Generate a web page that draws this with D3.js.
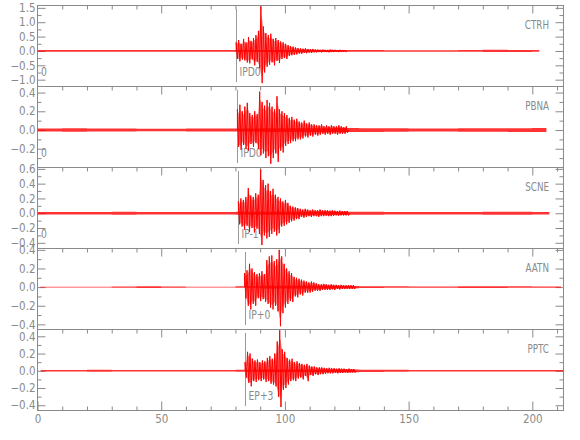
<!DOCTYPE html>
<html lang="en">
<head>
<meta charset="UTF-8">
<title>Seismograms</title>
<script src="https://cdn.jsdelivr.net/npm/d3@7/dist/d3.min.js"></script>
<style>
    body { margin: 0; background: #fff; }
    text { font-family: "Liberation Sans Narrow", "DejaVu Sans Condensed", sans-serif; fill: #8a8a8a; font-size: 11.5px; }
</style>
</head>
<body>
<svg id="seis" width="580" height="440"></svg>
<script>
    // station info
    const stations = ['CTRH', 'PBNA', 'SCNE', 'AATN', 'PPTC'];
    const pickLabels = ['IPD0', 'IPD0', 'IP-1', 'IP+0', 'EP+3'];
    const pickTimes = [80.3, 80.8, 81.2, 83.7, 83.9];
    const zeroMarks = [true, true, true, false, false];
    const traceStart = [0, 0, 0, 1.0, 1.3];
    const traceEnd = [202.8, 205.7, 206.9, 211.6, 212.5];
    const yLimits = [[-1.22, 1.60], [-0.395, 0.47], [-0.47, 0.625], [-0.45, 0.42], [-0.455, 0.485]];
    const yStep = [0.5, 0.2, 0.2, 0.2, 0.2];
    const xTickLabels = [0, 50, 100, 150, 200];

    // background noise level (+/-) for 10 s segments starting at these times
    const noiseTimes = [0, 10, 20, 30, 40, 50, 60, 70, 80, 90, 100, 110, 120, 130, 140, 150, 160, 170, 180, 190, 200, 210];
    const noiseCTRH = [0.03, 0.03, 0.03, 0.03, 0.03, 0.03, 0.03, 0.03, 0.035, 0.035, 0.035, 0.035, 0.03, 0.03, 0.028, 0.028, 0.028, 0.03, 0.04, 0.035, 0.03, 0.03];
    const noisePBNA = [0.016, 0.018, 0.016, 0.015, 0.014, 0.014, 0.015, 0.015, 0.016, 0.02, 0.02, 0.02, 0.022, 0.02, 0.018, 0.016, 0.016, 0.018, 0.018, 0.02, 0.022, 0.022];
    const noiseSCNE = [0.017, 0.017, 0.017, 0.019, 0.017, 0.017, 0.017, 0.017, 0.02, 0.02, 0.02, 0.022, 0.02, 0.02, 0.018, 0.017, 0.017, 0.017, 0.019, 0.019, 0.017, 0.017];
    const noiseAATN = [0.005, 0.005, 0.005, 0.006, 0.01, 0.006, 0.005, 0.005, 0.008, 0.015, 0.015, 0.015, 0.012, 0.01, 0.008, 0.007, 0.007, 0.009, 0.01, 0.008, 0.007, 0.007];
    const noisePPTC = [0.009, 0.009, 0.011, 0.009, 0.009, 0.009, 0.009, 0.009, 0.012, 0.015, 0.015, 0.015, 0.016, 0.013, 0.011, 0.009, 0.009, 0.009, 0.009, 0.009, 0.009, 0.009];

    // signal: peak per second from the pick, trough half a second later
    const peaksCTRH = [0.30, 0.38, 0.25, 0.42, 0.30, 0.48, 0.35, 0.45, 0.55, 0.70, 1.55, 0.85, 0.62, 0.55, 0.60, 0.42, 0.45, 0.38, 0.33, 0.30, 0.25, 0.20, 0.17, 0.15, 0.12, 0.10, 0.09, 0.08, 0.09, 0.07, 0.06, 0.07, 0.05, 0.05, 0.04, 0.05, 0.04, 0.04, 0.05, 0.04, 0.04, 0.035, 0.04, 0.035, 0.03];
    const troughsCTRH = [-0.28, -0.36, -0.30, -0.33, -0.40, -0.43, -0.30, -0.50, -0.38, -0.60, -1.12, -0.75, -0.55, -0.48, -0.40, -0.50, -0.35, -0.42, -0.28, -0.25, -0.28, -0.18, -0.15, -0.14, -0.12, -0.09, -0.10, -0.07, -0.08, -0.06, -0.07, -0.05, -0.05, -0.04, -0.05, -0.04, -0.04, -0.05, -0.04, -0.04, -0.035, -0.04, -0.035, -0.03, -0.035];
    const peaksPBNA = [0.22, 0.27, 0.20, 0.25, 0.29, 0.18, 0.16, 0.20, 0.17, 0.41, 0.30, 0.26, 0.32, 0.29, 0.25, 0.22, 0.36, 0.22, 0.20, 0.18, 0.16, 0.13, 0.14, 0.11, 0.12, 0.09, 0.08, 0.10, 0.07, 0.08, 0.06, 0.06, 0.05, 0.05, 0.06, 0.04, 0.05, 0.04, 0.05, 0.04, 0.04, 0.05, 0.04, 0.03, 0.04];
    const troughsPBNA = [-0.18, -0.21, -0.16, -0.20, -0.22, -0.15, -0.18, -0.14, -0.20, -0.27, -0.25, -0.30, -0.28, -0.36, -0.30, -0.25, -0.34, -0.22, -0.24, -0.17, -0.15, -0.14, -0.12, -0.12, -0.10, -0.10, -0.09, -0.07, -0.08, -0.06, -0.07, -0.05, -0.06, -0.05, -0.04, -0.05, -0.04, -0.05, -0.04, -0.04, -0.05, -0.04, -0.04, -0.04, -0.03];
    const peaksSCNE = [0.16, 0.20, 0.18, 0.22, 0.34, 0.24, 0.22, 0.27, 0.25, 0.59, 0.45, 0.38, 0.40, 0.30, 0.33, 0.25, 0.22, 0.20, 0.16, 0.18, 0.14, 0.10, 0.09, 0.08, 0.07, 0.06, 0.05, 0.06, 0.05, 0.04, 0.05, 0.04, 0.04, 0.05, 0.04, 0.04, 0.04, 0.035, 0.04, 0.035, 0.03, 0.035, 0.03, 0.03, 0.03];
    const troughsSCNE = [-0.15, -0.18, -0.22, -0.17, -0.25, -0.20, -0.26, -0.21, -0.28, -0.43, -0.30, -0.34, -0.32, -0.28, -0.25, -0.30, -0.27, -0.18, -0.17, -0.15, -0.13, -0.11, -0.10, -0.08, -0.08, -0.05, -0.06, -0.05, -0.04, -0.05, -0.04, -0.04, -0.05, -0.04, -0.04, -0.035, -0.04, -0.04, -0.035, -0.03, -0.035, -0.03, -0.03, -0.03, -0.03];
    const peaksAATN = [0.15, 0.18, 0.25, 0.20, 0.16, 0.14, 0.15, 0.17, 0.14, 0.29, 0.33, 0.34, 0.28, 0.30, 0.40, 0.33, 0.25, 0.20, 0.17, 0.15, 0.11, 0.10, 0.09, 0.08, 0.07, 0.06, 0.05, 0.06, 0.05, 0.04, 0.03, 0.03, 0.035, 0.03, 0.025, 0.03, 0.025, 0.025, 0.02, 0.025, 0.02, 0.02, 0.02, 0.02, 0.02];
    const troughsAATN = [-0.12, -0.20, -0.24, -0.18, -0.20, -0.12, -0.15, -0.13, -0.16, -0.18, -0.22, -0.24, -0.20, -0.26, -0.42, -0.28, -0.22, -0.18, -0.15, -0.16, -0.10, -0.11, -0.08, -0.09, -0.06, -0.06, -0.06, -0.05, -0.04, -0.04, -0.04, -0.03, -0.03, -0.03, -0.03, -0.025, -0.03, -0.02, -0.025, -0.02, -0.02, -0.02, -0.02, -0.02, -0.02];
    const peaksPPTC = [0.10, 0.22, 0.20, 0.14, 0.12, 0.13, 0.10, 0.12, 0.11, 0.15, 0.17, 0.14, 0.20, 0.34, 0.47, 0.25, 0.22, 0.15, 0.13, 0.14, 0.10, 0.11, 0.09, 0.08, 0.07, 0.08, 0.06, 0.05, 0.05, 0.04, 0.04, 0.04, 0.035, 0.03, 0.035, 0.03, 0.03, 0.025, 0.03, 0.025, 0.025, 0.02, 0.025, 0.02, 0.02];
    const troughsPPTC = [-0.08, -0.14, -0.18, -0.12, -0.13, -0.11, -0.12, -0.10, -0.13, -0.12, -0.15, -0.16, -0.18, -0.30, -0.42, -0.22, -0.20, -0.16, -0.12, -0.11, -0.12, -0.09, -0.08, -0.10, -0.06, -0.12, -0.05, -0.06, -0.04, -0.05, -0.04, -0.04, -0.035, -0.03, -0.03, -0.03, -0.025, -0.03, -0.025, -0.025, -0.02, -0.025, -0.02, -0.02, -0.02];

    const noise = [noiseCTRH, noisePBNA, noiseSCNE, noiseAATN, noisePPTC];
    const peaks = [peaksCTRH, peaksPBNA, peaksSCNE, peaksAATN, peaksPPTC];
    const troughs = [troughsCTRH, troughsPBNA, troughsSCNE, troughsAATN, troughsPPTC];

    let svg = d3.select('svg#seis');
    const axisCol = '#8a8a8a';
    const panelTop = 5, panelH = 81;
    let x = d3.scaleLinear().domain([0, 212.6]).range([37.5, 563.5]);

    const xMinor = [], xMajor = [];
    for (let t = 10; t <= 210; t += 10) { if (t % 50 === 0) xMajor.push(t); else xMinor.push(t); }

    function styleAxis(g) {
        g.select('.domain').remove();
        g.selectAll('line').attr('stroke', axisCol);
    }

    stations.forEach(function (name, i) {
        let top = panelTop + i * panelH, bottom = top + panelH;
        let y = d3.scaleLinear().domain(yLimits[i]).range([bottom, top]);
        let g = svg.append('g');

        // y ticks
        let step = yStep[i], lo = yLimits[i][0], hi = yLimits[i][1];
        let major = [], minor = [];
        for (let k = Math.ceil(lo / (step / 2) - 1e-6); k * step / 2 <= hi + 1e-9; k++) {
            let v = +(k * step / 2).toFixed(3);
            if (k % 2 === 0) major.push(v); else minor.push(v);
        }
        g.append('g').attr('transform', 'translate(37.5,0)')
            .call(d3.axisLeft(y).tickValues(major).tickSize(-8).tickPadding(2).tickFormat(d3.format('.1f')))
            .call(styleAxis);
        g.append('g').attr('transform', 'translate(37.5,0)')
            .call(d3.axisLeft(y).tickValues(minor).tickSize(-4).tickFormat(''))
            .call(styleAxis);
        g.append('g').attr('transform', 'translate(563.5,0)')
            .call(d3.axisRight(y).tickValues(major).tickSize(-8).tickFormat(''))
            .call(styleAxis);
        g.append('g').attr('transform', 'translate(563.5,0)')
            .call(d3.axisRight(y).tickValues(minor).tickSize(-4).tickFormat(''))
            .call(styleAxis);

        // x ticks along the top edge
        g.append('g').attr('transform', 'translate(0,' + (top + 0.5) + ')')
            .call(d3.axisBottom(x).tickValues(xMinor).tickSize(4).tickFormat(''))
            .call(styleAxis);
        g.append('g').attr('transform', 'translate(0,' + (top + 0.5) + ')')
            .call(d3.axisBottom(x).tickValues(xMajor).tickSize(8).tickFormat(''))
            .call(styleAxis);

        // frame
        g.append('rect')
            .attr('x', 37.5).attr('y', top + 0.5)
            .attr('width', 526).attr('height', panelH)
            .attr('fill', 'none').attr('stroke', axisCol);

        // pick marker
        let px = Math.round(x(pickTimes[i])) + 0.5;
        g.append('line')
            .attr('x1', px).attr('x2', px)
            .attr('y1', top + 4).attr('y2', bottom - 4)
            .attr('stroke', '#9a9a9a');
        g.append('text')
            .attr('transform', 'translate(' + (px + 3) + ',' + (bottom - 10) + ') scale(0.82,1)')
            .style('font-size', '12.5px')
            .text(pickLabels[i]);
        if (zeroMarks[i]) {
            g.append('text')
                .attr('transform', 'translate(41,' + (bottom - 10) + ') scale(0.82,1)')
                .style('font-size', '12.5px')
                .text('0');
        }
        g.append('text')
            .attr('transform', 'translate(549,' + (top + 24) + ') scale(0.78,1)')
            .attr('text-anchor', 'end')
            .style('font-size', '12.5px')
            .text(name);

        // clip to the panel
        svg.append('clipPath').attr('id', 'clip' + i)
            .append('rect').attr('x', 37.5).attr('y', top + 0.5).attr('width', 526).attr('height', panelH);
        let wave = svg.append('g').attr('clip-path', 'url(#clip' + i + ')');

        // noise band
        let band = [];
        noiseTimes.forEach(function (t, k) {
            let a = Math.max(t, traceStart[i]), b = Math.min(t + 10, traceEnd[i]);
            if (b > a) band.push({t: a, n: noise[i][k]});
        });
        band.push({t: traceEnd[i], n: band[band.length - 1].n});
        wave.append('path')
            .datum(band)
            .attr('fill', '#ff0000')
            .attr('fill-opacity', 0.8)
            .attr('d', d3.area().curve(d3.curveStepAfter)
                .x(function (d) { return x(d.t); })
                .y0(function (d) { return y(-d.n); })
                .y1(function (d) { return y(d.n); }));

        // signal envelope (light) and peak-to-trough trace
        let t0 = pickTimes[i];
        let n = Math.min(peaks[i].length, troughs[i].length);
        let env = [];
        for (let j = 0; j < n; j++) env.push({t: t0 + j + 0.25, p: peaks[i][j], q: troughs[i][j]});
        wave.append('path')
            .datum(env)
            .attr('fill', '#ff0000')
            .attr('fill-opacity', 0.45)
            .attr('d', d3.area()
                .x(function (d) { return x(d.t); })
                .y0(function (d) { return y(d.q * 0.8); })
                .y1(function (d) { return y(d.p * 0.8); }));

        let pts = [[t0, 0]];
        for (let j = 0; j < n; j++) {
            pts.push([t0 + j, peaks[i][j]]);
            pts.push([t0 + j + 0.5, troughs[i][j]]);
        }
        pts.push([t0 + n, 0]);
        wave.append('path')
            .datum(pts)
            .attr('fill', 'none')
            .attr('stroke', '#ff0000')
            .attr('stroke-width', 1)
            .attr('d', d3.line()
                .x(function (d) { return x(d[0]); })
                .y(function (d) { return y(d[1]); }));

        // bottom axis on last panel
        if (i === stations.length - 1) {
            svg.append('g').attr('transform', 'translate(0,' + (bottom + 0.5) + ')')
                .call(d3.axisBottom(x).tickValues(xMinor).tickSize(-4).tickFormat(''))
                .call(styleAxis);
            svg.append('g').attr('transform', 'translate(0,' + (bottom + 0.5) + ')')
                .call(d3.axisBottom(x).tickValues(xTickLabels).tickSize(-9).tickPadding(4).tickFormat(d3.format('d')))
                .call(styleAxis);
        }
    });
</script>
</body>
</html>
